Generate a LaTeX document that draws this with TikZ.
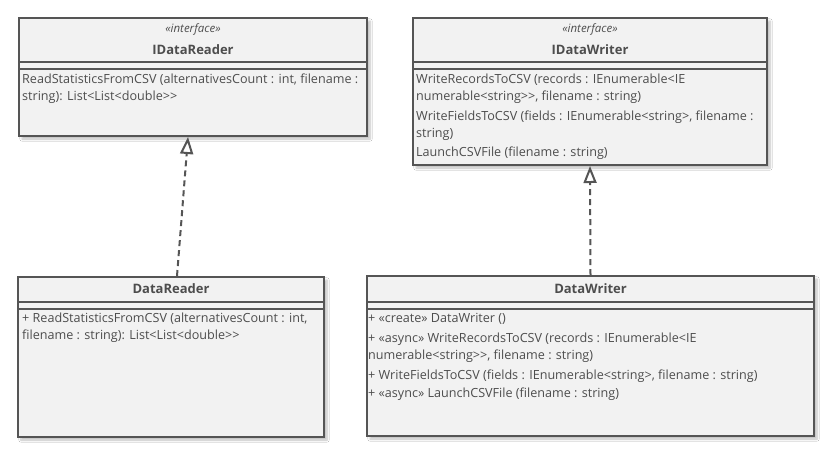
\documentclass[tikz,border=0pt]{standalone}
\usepackage{fontspec}
\setmainfont{Open Sans}
\usetikzlibrary{arrows.meta, shadows.blur}
\definecolor{umlline}{HTML}{555555}
\definecolor{umlfill}{HTML}{F2F2F2}
\definecolor{umltext}{HTML}{4D4D4D}
\tikzset{
  classbox/.style={
    draw=umlline, fill=umlfill,   % box colours
    line width=2pt,               % border thickness
    anchor=north west, inner sep=0pt,
    blur shadow={shadow xshift=3pt, shadow yshift=-3pt, shadow blur steps=6, shadow opacity=25}
  }
}
\tikzset{
  sepline/.style={draw=umlline, line width=2pt},
  stereo/.style={font=\fontsize{11.5}{13}\selectfont\itshape, text=umltext, anchor=base, inner sep=0pt},
  classname/.style={font=\fontsize{13}{15}\selectfont\bfseries, text=umltext, anchor=base, inner sep=0pt},
  member/.style={font=\fontsize{12.6}{14}\selectfont, text=umltext, anchor=base west, inner sep=0pt}
}
\tikzset{
  realize/.style={
    draw=umlline, line width=2pt,
    dash pattern=on 6pt off 4pt,
    -{Triangle[open, length=17pt, width=13pt, line width=2pt, sep=0pt]}
  }
}

\begin{document}
\begin{tikzpicture}[x=1pt, y=-1pt]
    \fill[white] (0,0) rectangle (833,456);
    \useasboundingbox (0,0) rectangle (833,456);

    % Class boxes
    \node[classbox, minimum width=348pt, minimum height=118pt] (ireader) at (18,17) {};
    \node[classbox, minimum width=354pt, minimum height=147pt] (iwriter) at (412,17) {};
    \node[classbox, minimum width=306pt, minimum height=160pt] (reader) at (17,276) {};
    \node[classbox, minimum width=447pt, minimum height=160pt] (writer) at (366,275) {};

    % Double separator under each header
    \foreach \cls/\ya/\yb in {ireader/62/69, iwriter/62/69, reader/302/309, writer/302/309} {
        \draw[sepline] (\cls.west |- 0,\ya) -- (\cls.east |- 0,\ya);
        \draw[sepline] (\cls.west |- 0,\yb) -- (\cls.east |- 0,\yb);
    }

    % Headers
    \node[stereo] (ireader-stereo) at (ireader.north |- 0,32) {«interface»};
    \node[classname] (ireader-name) at (ireader.north |- 0,54) {IDataReader};
    \node[stereo] (iwriter-stereo) at (iwriter.north |- 0,32) {«interface»};
    \node[classname] (iwriter-name) at (iwriter.north |- 0,54) {IDataWriter};
    \node[classname] (reader-name) at (reader.north |- 0,293) {DataReader};
    \node[classname] (writer-name) at (writer.north |- 0,293) {DataWriter};

    % Operations
    \foreach \y/\t [count=\i] in {83/{ReadStatisticsFromCSV (alternativesCount : int, filename :},
                                  100/{string): List<List<double>{}>}} {
        \node[member] (ireader-op\i) at (22,\y) {\t};
    }
    \foreach \y/\t [count=\i] in {83/{WriteRecordsToCSV (records : IEnumerable<IE},
                                  100/{numerable<string>{}>, filename : string)},
                                  120/{WriteFieldsToCSV (fields : IEnumerable<string>, filename :},
                                  137/{string)},
                                  156/{LaunchCSVFile (filename : string)}} {
        \node[member] (iwriter-op\i) at (416,\y) {\t};
    }
    \foreach \y/\t [count=\i] in {322/{+ ReadStatisticsFromCSV (alternativesCount : int,},
                                  339/{filename : string): List<List<double>{}>}} {
        \node[member] (reader-op\i) at (22,\y) {\t};
    }
    \foreach \y/\t [count=\i] in {322/{+ «create» DataWriter ()},
                                  342/{+ «async» WriteRecordsToCSV (records : IEnumerable<IE},
                                  359/{numerable<string>{}>, filename : string)},
                                  379/{+ WriteFieldsToCSV (fields : IEnumerable<string>, filename : string)},
                                  397/{+ «async» LaunchCSVFile (filename : string)}} {
        \node[member] (writer-op\i) at (368,\y) {\t};
    }

    % Realizations
    \draw[realize] ([xshift=6pt]reader.north) -- ([xshift=-5pt]ireader.south);
    \draw[realize] (writer.north) -- (iwriter.south);
\end{tikzpicture}
\end{document}
